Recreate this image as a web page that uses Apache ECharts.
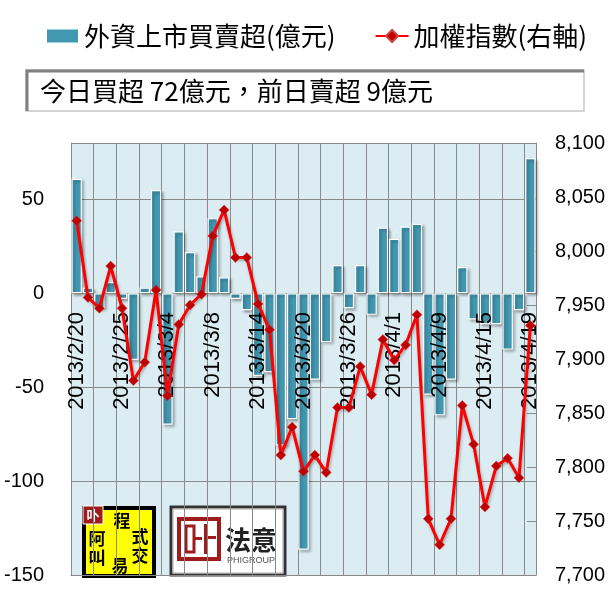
<!DOCTYPE html>
<html><head><meta charset="utf-8">
<script src="https://cdn.jsdelivr.net/npm/echarts@6/dist/echarts.min.js"></script>
<style>html,body{margin:0;padding:0;background:#fff}#c{width:610px;height:607px}</style>
</head><body><div id="c"></div>
<script>
var dates = ['2013/2/20','2013/2/21','2013/2/22','2013/2/23','2013/2/25','2013/2/26','2013/2/27','2013/3/1','2013/3/4','2013/3/5','2013/3/6','2013/3/7','2013/3/8','2013/3/11','2013/3/12','2013/3/13','2013/3/14','2013/3/15','2013/3/18','2013/3/19','2013/3/20','2013/3/21','2013/3/22','2013/3/25','2013/3/26','2013/3/27','2013/3/28','2013/3/29','2013/4/1','2013/4/2','2013/4/3','2013/4/8','2013/4/9','2013/4/10','2013/4/11','2013/4/12','2013/4/15','2013/4/16','2013/4/17','2013/4/18','2013/4/19'];
var foreignNet = [61, 3, -8, 6, -3, -35.5, 3, 55, -70, 33, 22, 9, 40, 8.5, -3, -9, -44, -42, -81, -67, -136.5, -46, -26, 15, -8, 15, -11.5, 35, 29, 35.5, 37, -54, -65, -46, 14, -14, -16.5, -16.5, -30, -9, 72];
var taiex = [8028, 7957, 7947, 7986, 7947, 7880, 7897, 7964, 7866, 7932, 7950, 7960, 8014, 8038, 7994, 7994, 7951, 7927, 7811, 7837, 7796, 7811, 7795, 7855, 7855, 7893, 7867, 7918, 7899, 7913, 7941, 7752, 7728, 7752, 7857, 7821, 7763, 7801, 7808, 7790, 7931];
var leftTicks = {min: -150, max: 80, interval: 50};
var rightTicks = {min: 7700, max: 8100, interval: 50};
var barName = '外資上市買賣超(億元)';
var lineName = '加權指數(右軸)';
var noteText = '今日買超 72億元，前日賣超 9億元';

var chart = echarts.init(document.getElementById('c'));
var cjk = '"Noto Sans CJK TC","Noto Sans CJK SC",sans-serif';
var num = '"Liberation Sans","DejaVu Sans",sans-serif';
chart.setOption({
  animation: false,
  backgroundColor: '#ffffff',
  legend: {
    left: 40, top: 18, itemWidth: 33, itemHeight: 15, itemGap: 39,
    textStyle: {fontFamily: cjk, fontSize: 26, color: '#000'},
    data: [{name: barName, icon: 'rect'}, {name: lineName}]
  },
  grid: {left: 71, right: 74, top: 143, bottom: 32, show: true, backgroundColor: '#dbedf3', borderWidth: 0,
    containLabel: false, outerBoundsMode: 'none'},
  xAxis: [{
    type: 'category', data: dates, boundaryGap: true,
    axisLine: {show: true, onZero: false, lineStyle: {color: '#888', width: 1}},
    axisTick: {show: false},
    axisLabel: {show: false},
    splitLine: {show: true, interval: 1, lineStyle: {color: '#8a8a8a', width: 1}}
  }, {
    type: 'category', data: dates, boundaryGap: true, position: 'bottom', z: 3,
    axisLine: {show: false, onZero: false},
    axisTick: {show: false},
    axisLabel: {interval: 3, rotate: 90, fontFamily: num, fontSize: 22, color: '#000', margin: -263, hideOverlap: false},
    splitLine: {show: false}
  }],
  yAxis: [{
    type: 'value', min: leftTicks.min, max: leftTicks.max, interval: leftTicks.interval,
    axisLine: {show: true, lineStyle: {color: '#8a8a8a'}},
    axisTick: {show: false},
    axisLabel: {showMaxLabel: false, fontFamily: num, fontSize: 20, color: '#000', margin: 27},
    splitLine: {show: true, lineStyle: {color: '#8a8a8a', width: 1}}
  }, {
    type: 'value', position: 'right', min: rightTicks.min, max: rightTicks.max, interval: rightTicks.interval,
    axisLine: {show: true, lineStyle: {color: '#8a8a8a'}},
    axisTick: {show: true, inside: true, length: 9, lineStyle: {color: '#8a8a8a'}},
    axisLabel: {fontFamily: num, fontSize: 20, color: '#000', margin: 19,
      formatter: function (v) { return v.toLocaleString('en-US'); }},
    splitLine: {show: false}
  }],
  series: [{
    name: barName, type: 'bar', data: foreignNet, barCategoryGap: '8%', xAxisIndex: 0, z: 2,
    itemStyle: {color: '#4398b1', borderColor: '#ffffff', borderWidth: 1.2,
      shadowColor: 'rgba(0,0,0,0.35)', shadowBlur: 3, shadowOffsetX: 2, shadowOffsetY: 2}
  }, {
    name: lineName, type: 'line', yAxisIndex: 1, xAxisIndex: 0, data: taiex, z: 4,
    symbol: 'diamond', symbolSize: 10, showAllSymbol: true,
    lineStyle: {color: '#ff0000', width: 3, shadowColor: 'rgba(0,0,0,0.3)', shadowBlur: 3, shadowOffsetX: 1, shadowOffsetY: 2},
    itemStyle: {color: '#c00000', borderColor: '#d04040', borderWidth: 0.5}
  }],
  graphic: [
    {type: 'rect', shape: {x: 26, y: 70, width: 558, height: 41}, style: {fill: '#fff', stroke: '#c8c8c8', lineWidth: 1.5}},
    {type: 'polyline', shape: {points: [[27, 111], [27, 71], [584, 71]]}, style: {stroke: '#808080', lineWidth: 3, fill: null}},
    {type: 'text', x: 40, y: 91, style: {text: noteText, fontFamily: cjk, fontSize: 26, fill: '#000', verticalAlign: 'middle'}},
    {type: 'group', z: 10, children: [
      {type: 'rect', shape: {x: 84, y: 508, width: 70, height: 68}, style: {fill: '#ffff00', stroke: '#000', lineWidth: 4}},
      {type: 'rect', shape: {x: 83, y: 506, width: 20, height: 18}, style: {fill: '#a01c1c', stroke: '#fff', lineWidth: 1}},
      {type: 'text', x: 93, y: 515, style: {text: '卟', fontFamily: cjk, fontSize: 13, fontWeight: 'bold', fill: '#fff', align: 'center', verticalAlign: 'middle'}},
      {type: 'text', x: 122, y: 521, style: {text: '程', fontFamily: cjk, fontSize: 17, fontWeight: 'bold', fill: '#000', align: 'center', verticalAlign: 'middle'}},
      {type: 'text', x: 97, y: 539, style: {text: '阿', fontFamily: cjk, fontSize: 17, fontWeight: 'bold', fill: '#000', align: 'center', verticalAlign: 'middle'}},
      {type: 'text', x: 97, y: 558, style: {text: '叫', fontFamily: cjk, fontSize: 17, fontWeight: 'bold', fill: '#000', align: 'center', verticalAlign: 'middle'}},
      {type: 'text', x: 140, y: 537, style: {text: '式', fontFamily: cjk, fontSize: 17, fontWeight: 'bold', fill: '#000', align: 'center', verticalAlign: 'middle'}},
      {type: 'text', x: 140, y: 556, style: {text: '交', fontFamily: cjk, fontSize: 17, fontWeight: 'bold', fill: '#000', align: 'center', verticalAlign: 'middle'}},
      {type: 'text', x: 120, y: 566, style: {text: '易', fontFamily: cjk, fontSize: 17, fontWeight: 'bold', fill: '#000', align: 'center', verticalAlign: 'middle'}}
    ]},
    {type: 'group', z: 10, children: [
      {type: 'rect', shape: {x: 171, y: 507, width: 114, height: 68}, style: {fill: '#fff', stroke: '#333', lineWidth: 3}},
      {type: 'rect', shape: {x: 173, y: 509, width: 110, height: 64}, style: {fill: 'none', stroke: '#aaa', lineWidth: 1}},
      {type: 'rect', shape: {x: 179, y: 519, width: 40, height: 40}, style: {fill: 'none', stroke: '#a01c1c', lineWidth: 4}},
      {type: 'rect', shape: {x: 186, y: 526, width: 8, height: 26}, style: {fill: 'none', stroke: '#a01c1c', lineWidth: 3}},
      {type: 'rect', shape: {x: 194, y: 537, width: 8, height: 3}, style: {fill: '#a01c1c'}},
      {type: 'rect', shape: {x: 204, y: 524, width: 4, height: 30}, style: {fill: '#a01c1c'}},
      {type: 'rect', shape: {x: 208, y: 536, width: 8, height: 3}, style: {fill: '#a01c1c'}},
      {type: 'text', x: 251, y: 540, style: {text: '法意', fontFamily: cjk, fontSize: 26, fontWeight: 'bold', fill: '#222', align: 'center', verticalAlign: 'middle'}},
      {type: 'text', x: 251, y: 561, style: {text: 'PHIGROUP', fontFamily: num, fontSize: 9, fill: '#555', align: 'center', verticalAlign: 'middle'}}
    ]}
  ]
});
</script></body></html>
